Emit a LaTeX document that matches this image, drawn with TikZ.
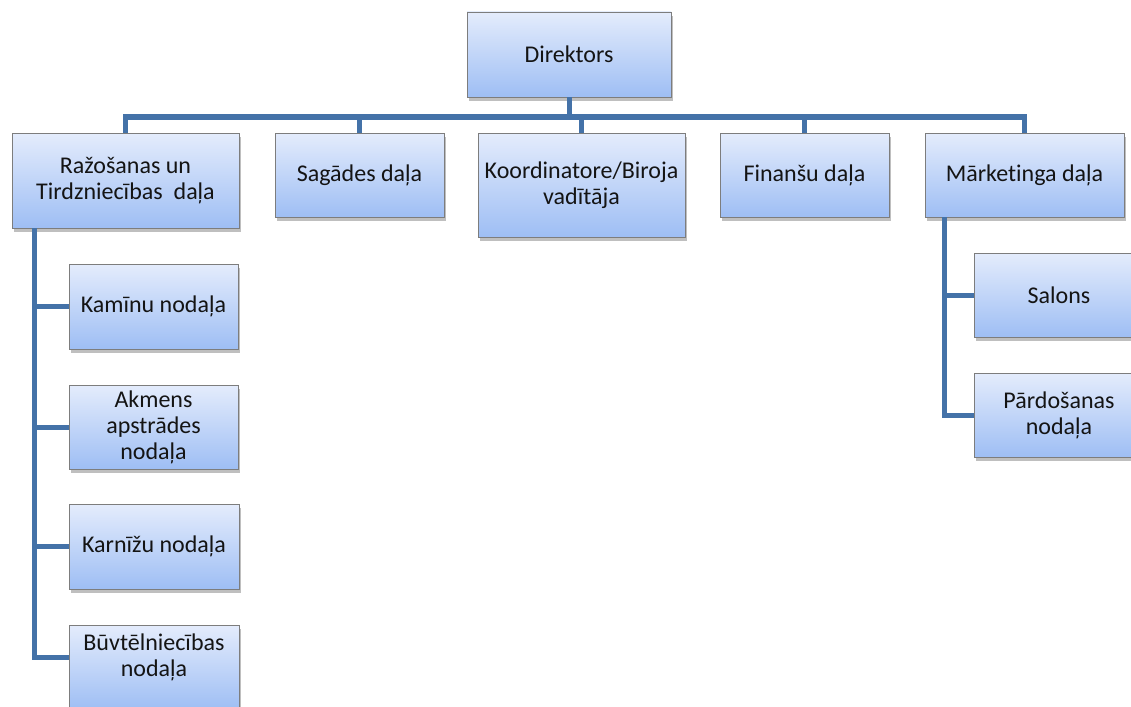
\documentclass[tikz,border=0pt]{standalone}
\usepackage{fontspec}
\setmainfont{Carlito}[Ligatures=NoCommon]
\usetikzlibrary{shadows}
\definecolor{conn}{RGB}{68,114,168}
\definecolor{boxtop}{RGB}{228,236,252}
\definecolor{boxbot}{RGB}{158,190,244}
\definecolor{boxline}{RGB}{125,125,125}
\definecolor{txt}{RGB}{20,20,20}
\begin{document}
\begin{tikzpicture}[x=1pt,y=-1pt,
  box/.style={draw=boxline, line width=0.9pt, top color=boxtop, bottom color=boxbot,
    drop shadow={shadow xshift=1.5pt, shadow yshift=-4pt, opacity=0.25, fill=black},
    align=center, font=\fontsize{24}{26}\selectfont, text=txt, inner sep=2pt},
  lbl/.style={align=center, font=\fontsize{24}{26}\selectfont, text=txt},
  link/.style={draw=conn, line width=5pt, line join=miter}]
\path[use as bounding box] (0,0) rectangle (1131,706);
\clip (0,0) rectangle (1131,706);

\node[box, minimum width=204pt, minimum height=85pt] (dir) at (569,54.5) {Direktors};

\node[box, minimum width=227pt, minimum height=95pt] (raz) at (125.5,180.5) {Ražošanas un\\Tirdzniecības\ \ daļa};
\node[box, minimum width=169pt, minimum height=84pt] (sag) at (359.5,175) {Sagādes daļa};
\node[box, minimum width=207pt, minimum height=104pt] (koo) at (581.5,185) {Koordinatore/Biroja\\vadītāja};
\node[box, minimum width=169pt, minimum height=84pt] (fin) at (804.5,175) {Finanšu daļa};
\node[box, minimum width=199pt, minimum height=84pt] (mar) at (1024.5,175) {Mārketinga daļa};

\node[box, minimum width=169pt, minimum height=85pt] (kam) at (153.5,306.5) {Kamīnu nodaļa};
\node[box, minimum width=169pt, minimum height=84pt] (akm) at (153.5,427) {Akmens\\apstrādes\\nodaļa};
\node[box, minimum width=170pt, minimum height=85pt] (kar) at (154,546.5) {Karnīžu nodaļa};
\node[box, minimum width=170pt, minimum height=85pt,
  label={[lbl, yshift=10.5pt]center:{Būvtēlniecības\\nodaļa}}] (buv) at (154,667.5) {};

\node[box, minimum width=170pt, minimum height=84pt] (sal) at (1059,295) {Salons};
\node[box, minimum width=170pt, minimum height=84pt] (par) at (1059,415) {Pārdošanas\\nodaļa};

\coordinate (bus) at (0,117);
\draw[link] (dir.south) -- (dir.south |- bus);
\draw[link] (raz.north) -- (raz.north |- bus) -- (mar.north |- bus) -- (mar.north);
\draw[link] (sag.north) -- (sag.north |- bus);
\draw[link] (koo.north) -- (koo.north |- bus);
\draw[link] (fin.north) -- (fin.north |- bus);

\coordinate (rl) at ([xshift=23pt]raz.south west);
\draw[link] (rl) |- (kam.west);
\draw[link] (rl) |- (akm.west);
\draw[link] (rl) |- (kar.west);
\draw[link] (rl) |- ([yshift=10.5pt]buv.west);

\coordinate (ml) at ([xshift=20pt]mar.south west);
\draw[link] (ml) |- (sal.west);
\draw[link] (ml) |- (par.west);
\end{tikzpicture}
\end{document}
